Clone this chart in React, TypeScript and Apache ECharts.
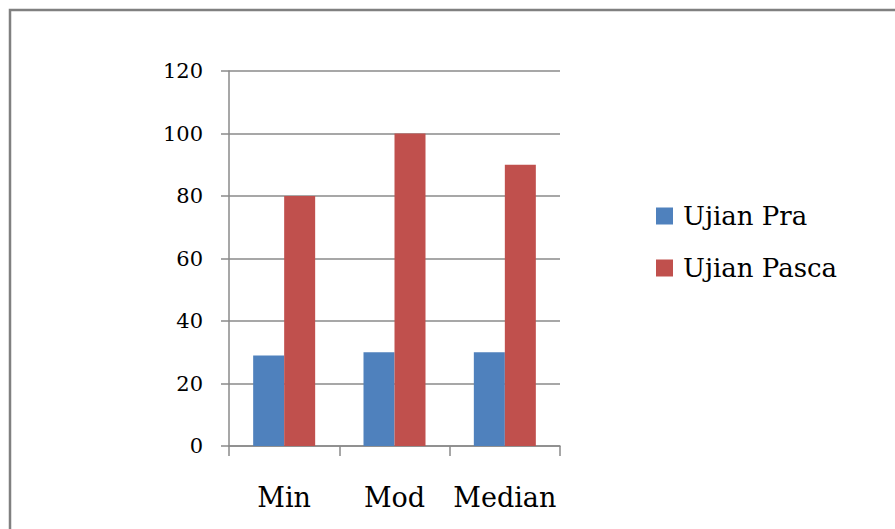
import React, { useEffect, useRef } from "react";
import * as echarts from "echarts";

const categories = ["Min", "Mod", "Median"];
const ujianPra = [29, 30, 30];
const ujianPasca = [80, 100, 90];
const seriesNames = ["Ujian Pra", "Ujian Pasca"];

const FONT = "DejaVu Serif";
const GRAY = "#8a8a8a";

export default function App() {
  const ref = useRef<HTMLDivElement>(null);
  useEffect(() => {
    if (!ref.current) return;
    const chart = echarts.init(ref.current, null, { renderer: "svg" });
    chart.setOption({
      animation: false,
      backgroundColor: "#ffffff",
      textStyle: { fontFamily: FONT, color: "#000" },
      graphic: [
        {
          type: "rect",
          shape: { x: 10, y: 10, width: 1200, height: 1200 },
          style: { fill: "none", stroke: "#808080", lineWidth: 2.5 },
          silent: true,
        },
      ],
      grid: { left: 229, right: 335, top: 71, bottom: 83, containLabel: false },
      legend: {
        orient: "vertical",
        left: 656,
        top: 199,
        padding: 0,
        itemWidth: 17,
        itemHeight: 17,
        itemGap: 18,
        icon: "rect",
        textStyle: {
          fontFamily: FONT,
          fontSize: 26,
          color: "#000",
          lineHeight: 34,
          padding: [0, 0, 0, 5],
        },
        data: seriesNames,
      },
      xAxis: {
        type: "category",
        data: categories,
        axisLine: { lineStyle: { color: GRAY, width: 1.5 } },
        axisTick: { show: true, length: 10, lineStyle: { color: GRAY, width: 1.5 } },
        axisLabel: {
          fontFamily: FONT,
          fontSize: 27,
          color: "#000",
          margin: 38,
          interval: 0,
        },
      },
      yAxis: {
        type: "value",
        min: 0,
        max: 120,
        interval: 20,
        axisLine: { show: true, lineStyle: { color: GRAY, width: 1.5 } },
        axisTick: { show: true, length: 8, lineStyle: { color: GRAY, width: 1.5 } },
        splitLine: { show: true, lineStyle: { color: GRAY, width: 1.5 } },
        axisLabel: { fontFamily: FONT, fontSize: 21, color: "#000", margin: 26 },
      },
      series: [
        {
          name: seriesNames[0],
          type: "bar",
          data: ujianPra,
          barWidth: 31,
          barGap: "0%",
          itemStyle: { color: "#4F81BD" },
        },
        {
          name: seriesNames[1],
          type: "bar",
          data: ujianPasca,
          barWidth: 31,
          barGap: "0%",
          itemStyle: { color: "#C0504D" },
        },
      ],
    });
    return () => chart.dispose();
  }, []);
  return (
    <div
      ref={ref}
      style={{ position: "fixed", left: 0, top: 0, width: 895, height: 529 }}
    />
  );
}
